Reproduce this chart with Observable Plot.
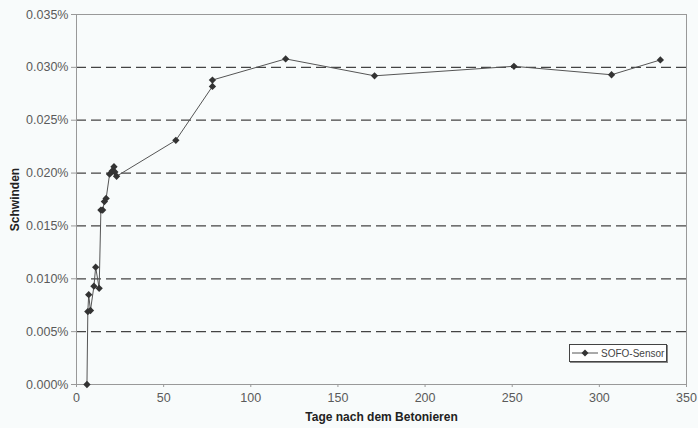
<!DOCTYPE html>
<html>
<head>
<meta charset="utf-8">
<script src="https://cdn.jsdelivr.net/npm/d3@7"></script>
<script src="https://cdn.jsdelivr.net/npm/@observablehq/plot@0.6"></script>
<style>
  html, body { margin: 0; padding: 0; background: #f8fbfb; }
  #wrap { position: relative; width: 698px; height: 428px; }
  #wrap svg { font-family: "Liberation Sans", Arial, sans-serif; }
  #wrap g[aria-label="x-axis label"] text,
  #wrap g[aria-label="y-axis label"] text {
    font-weight: bold; fill: #222; font-size: 12px;
    font-family: "Liberation Sans Narrow", "Liberation Sans", Arial, sans-serif;
  }
  #legend {
    position: absolute; left: 569px; top: 344px; width: 98px; height: 18px;
    border: 1px solid #444; background: #fff;
    box-shadow: 1px 1px 0 #888;
    font-family: "Liberation Sans", Arial, sans-serif; font-size: 10px; color: #444;
    display: flex; align-items: center; box-sizing: border-box; white-space: nowrap;
  }
  #legend svg { margin-left: 2px; margin-right: 3px; flex: none; }
</style>
</head>
<body>
<div id="wrap"></div>
<script>
const days   = [6, 6.5, 7, 8, 10, 11, 13, 14, 15, 16, 17, 19, 20.5, 21.5, 22, 23, 57, 78, 78, 120, 171, 251, 307, 335];
const values = [0, 0.0069, 0.0085, 0.0070, 0.0093, 0.0111, 0.0091, 0.0165, 0.0165, 0.0173, 0.0176, 0.0199, 0.0202, 0.0206, 0.0201, 0.0197, 0.0231, 0.0282, 0.0288, 0.0308, 0.0292, 0.0301, 0.0293, 0.0307];
const seriesName = "SOFO-Sensor";
const xTicks = [0, 50, 100, 150, 200, 250, 300, 350];
const yTicks = [0, 0.005, 0.010, 0.015, 0.020, 0.025, 0.030, 0.035];
const gridLines = [0.005, 0.010, 0.015, 0.020, 0.025, 0.030];

const data = days.map((d, i) => ({day: d, value: values[i]}));

const chart = Plot.plot({
  width: 698,
  height: 428,
  marginLeft: 76,
  marginRight: 12,
  marginTop: 14,
  marginBottom: 44,
  style: {background: "transparent", color: "#5a5a5a", fontSize: "12.5px"},
  x: {domain: [0, 350]},
  y: {domain: [0, 0.035]},
  marks: [
    Plot.ruleY(gridLines, {stroke: "#444", strokeWidth: 1.2, strokeDasharray: "10,5"}),
    Plot.frame({stroke: "#999"}),
    Plot.axisX({ticks: xTicks, tickSize: 3, tickPadding: 6, label: "Tage nach dem Betonieren", labelAnchor: "center", labelArrow: "none", labelOffset: 36, stroke: "#999"}),
    Plot.axisY({ticks: yTicks, tickFormat: d => d.toFixed(3) + "%", tickSize: 5, tickPadding: 3, label: "Schwinden", labelAnchor: "center", labelArrow: "none", labelOffset: 66, stroke: "#999"}),
    Plot.line(data, {x: "day", y: "value", stroke: "#555", strokeWidth: 1}),
    Plot.dot(data, {x: "day", y: "value", symbol: "diamond2", r: 3.3, fill: "#333", stroke: "none"})
  ]
});
document.getElementById("wrap").appendChild(chart);

const legend = document.createElement("div");
legend.id = "legend";
legend.innerHTML = '<svg width="26" height="10"><line x1="0" y1="5" x2="26" y2="5" stroke="#555" stroke-width="1"/><path d="M13,1.5 L16.5,5 L13,8.5 L9.5,5 Z" fill="#333"/></svg><span></span>';
legend.querySelector("span").textContent = seriesName;
document.getElementById("wrap").appendChild(legend);
</script>
</body>
</html>
